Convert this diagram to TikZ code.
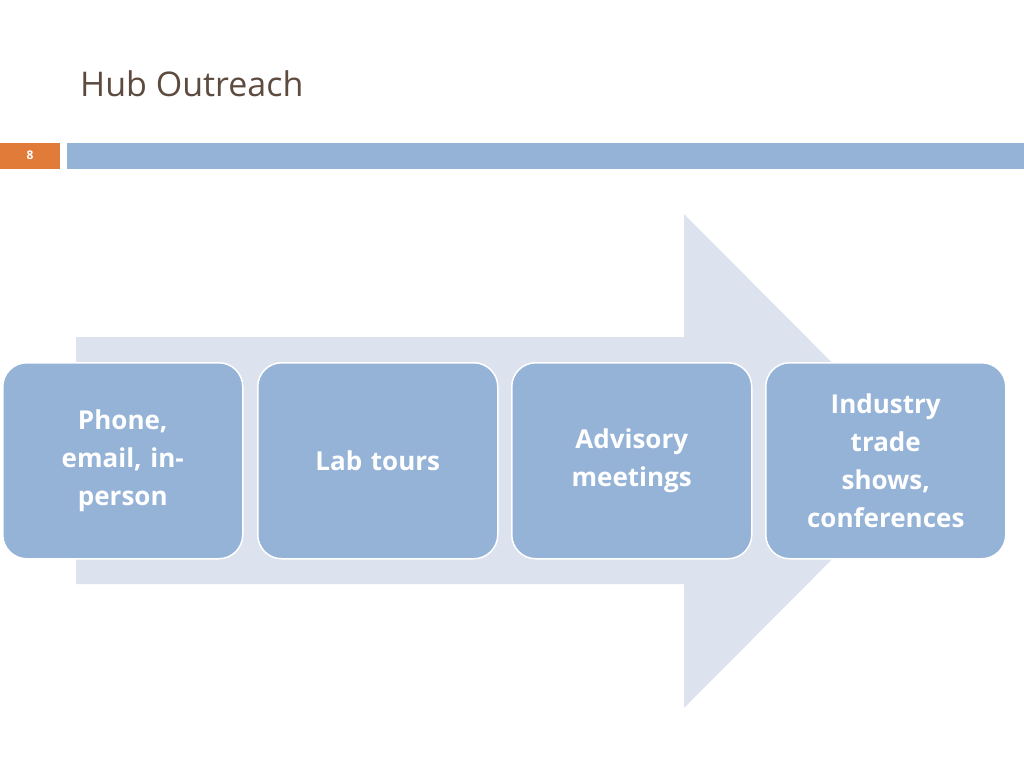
\documentclass[tikz,border=0pt]{standalone}
\usepackage{fontspec}
\setmainfont{Open Sans}
\definecolor{titlebrown}{HTML}{5E4B40}
\definecolor{barblue}{HTML}{95B3D7}
\definecolor{slideorange}{HTML}{E07B39}
\definecolor{arrowgrey}{HTML}{DCE3EE}
\tikzset{
  stepbox/.style={draw=white, line width=1.5pt, fill=barblue, rounded corners=24pt,
    minimum width=240pt, minimum height=196pt, anchor=north west, inner sep=0pt,
    text=white, align=center, font=\fontsize{26}{38}\selectfont\bfseries, text width=220pt}
}
\begin{document}
\begin{tikzpicture}[x=1pt,y=-1pt]
\useasboundingbox (0,0) rectangle (1024,768);
\node[anchor=base west, text=titlebrown, font=\fontsize{34}{38}\selectfont, inner sep=0pt] (title) at (80,96) {Hub Outreach};
\fill[slideorange] (0,143) rectangle (60,169);
\node[text=white, font=\fontsize{12}{14}\selectfont\bfseries] (num) at (30,155) {8};
\fill[barblue] (67,143) rectangle (1024,169);
% big arrow
\fill[arrowgrey] (76,337) -- (684,337) -- (684,214) -- (930,461) -- (684,708) -- (684,584) -- (76,584) -- cycle;
% steps
\node[stepbox] (phone) at (2,362) {Phone,\\email, in-\\person};
\node[stepbox] (lab) at (257,362) {Lab tours};
\node[stepbox] (advisory) at (511,362) {Advisory\\meetings};
\node[stepbox] (industry) at (765,362) {Industry\\trade\\shows,\\conferences};
\end{tikzpicture}
\end{document}
